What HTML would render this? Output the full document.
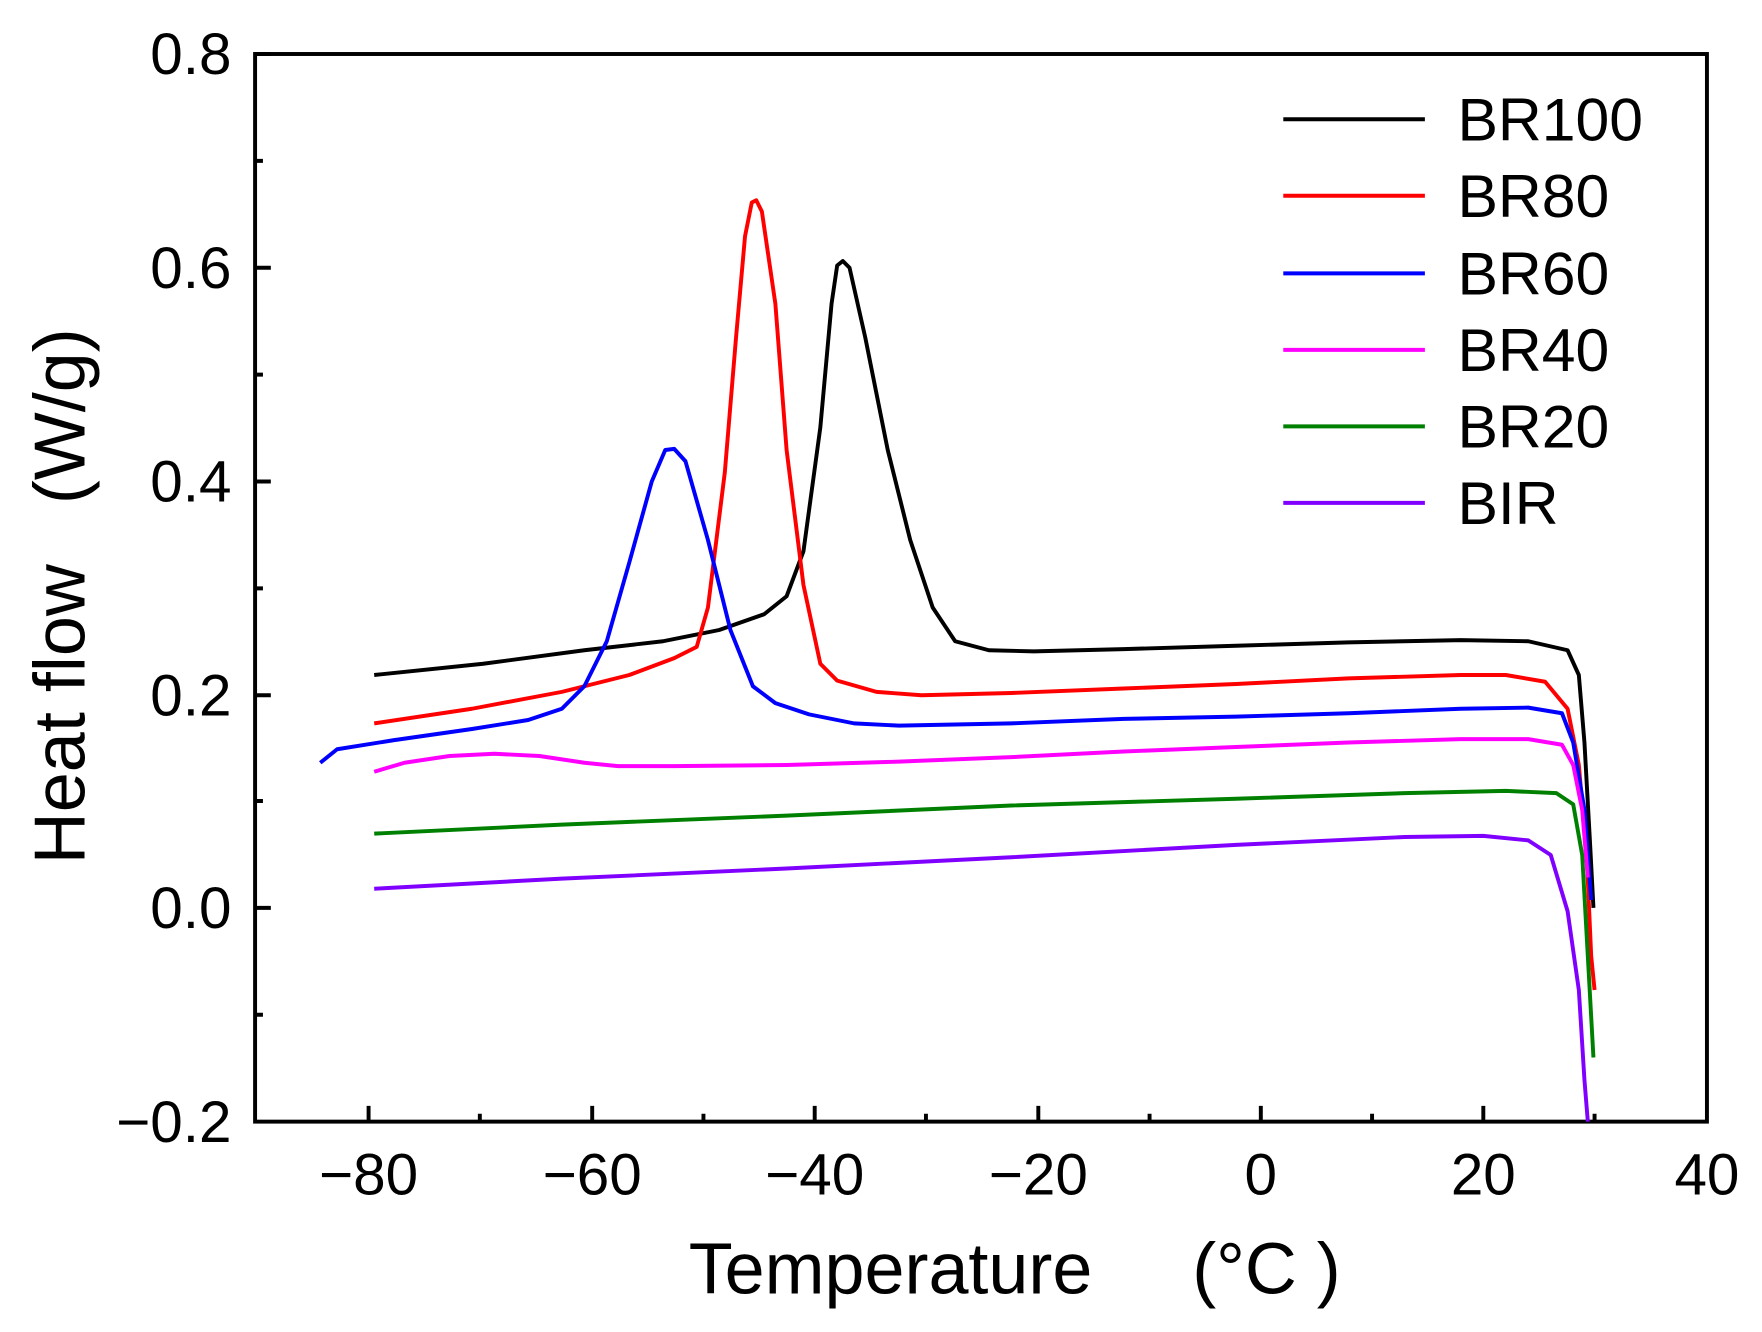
<!DOCTYPE html>
<html><head><meta charset="utf-8"><style>html,body{margin:0;padding:0;background:#fff}svg{display:block}</style></head>
<body>
<svg width="1762" height="1332" viewBox="0 0 1568 1184" preserveAspectRatio="none" xmlns="http://www.w3.org/2000/svg" font-family="Liberation Sans, sans-serif">
<rect x="0" y="0" width="1568" height="1184" fill="#fff"/>
<g stroke="#000" stroke-width="3.5" fill="none">
<rect x="227" y="48" width="1292" height="949"/>
<path d="M328,997v-14M427,997v-7M527,997v-14M626,997v-7M725,997v-14M824,997v-7M924,997v-14M1023,997v-7M1122,997v-14M1221,997v-7M1320,997v-14M1419,997v-7"/>
<path d="M227,48h14M227,143h7M227,238h14M227,333h7M227,428h14M227,523h7M227,618h14M227,712h7M227,807h14M227,902h7"/>
</g>
<g font-size="52" text-anchor="middle" fill="#000">
<text x="328" y="1062">−80</text><text x="527" y="1062">−60</text><text x="725" y="1062">−40</text><text x="924" y="1062">−20</text><text x="1122" y="1062">0</text><text x="1320" y="1062">20</text><text x="1519" y="1062">40</text>
</g>
<g font-size="52" text-anchor="end" fill="#000">
<text x="206" y="66">0.8</text><text x="206" y="256">0.6</text><text x="206" y="446">0.4</text><text x="206" y="636">0.2</text><text x="206" y="825">0.0</text><text x="206" y="1015">−0.2</text>
</g>
<text x="903" y="1150" font-size="64" text-anchor="middle">Temperature&#160;&#160;&#160;&#160;&#160;(°C )</text>
<text transform="translate(75,530) rotate(-90)" font-size="64" text-anchor="middle">Heat flow&#160;&#160;&#160;(W/g)</text>
<g fill="none" stroke-width="3.5" stroke-linejoin="round">
<polyline stroke="#000" points="333,600 430,590 520,578 590,570 640,560 680,546 700,530 715,490 730,380 740,270 745,236 750,232 756,238 770,300 790,400 810,480 830,540 850,570 880,578 920,579 1000,577 1100,574 1200,571 1300,569 1360,570 1395,578 1405,600 1410,660 1415,750 1418,807"/>
<polyline stroke="#ff0000" points="333,643 420,630 500,615 560,600 600,585 620,575 630,540 645,420 655,300 663,210 669,180 673,178 678,188 690,270 700,400 715,520 730,590 745,605 780,615 820,618 900,616 1000,612 1100,608 1200,603 1300,600 1340,600 1375,606 1395,630 1405,680 1412,760 1416,850 1419,880"/>
<polyline stroke="#0000ff" points="285,678 300,666 350,658 420,648 470,640 500,630 520,610 540,570 560,500 580,428 592,400 600,399 610,410 630,480 650,560 670,610 690,625 720,635 760,643 800,645 900,643 1000,639 1100,637 1200,634 1300,630 1360,629 1390,634 1400,660 1410,720 1416,800"/>
<polyline stroke="#ff00ff" points="333,686 360,678 400,672 440,670 480,672 520,678 550,681 600,681 700,680 800,677 900,673 1000,668 1100,664 1200,660 1300,657 1360,657 1390,662 1400,680 1408,720 1413,780"/>
<polyline stroke="#008000" points="333,741 500,733 700,725 900,716 1100,710 1250,705 1340,703 1385,705 1400,715 1408,760 1413,850 1418,940"/>
<polyline stroke="#8000ff" points="333,790 500,781 700,772 900,762 1100,751 1250,744 1320,743 1360,747 1380,760 1395,810 1405,880 1410,960 1413,997"/>
</g>
<g stroke-width="3.5">
<line x1="1142" y1="106" x2="1268" y2="106" stroke="#000"/>
<line x1="1142" y1="174" x2="1268" y2="174" stroke="#ff0000"/>
<line x1="1142" y1="243" x2="1268" y2="243" stroke="#0000ff"/>
<line x1="1142" y1="311" x2="1268" y2="311" stroke="#ff00ff"/>
<line x1="1142" y1="379" x2="1268" y2="379" stroke="#008000"/>
<line x1="1142" y1="447" x2="1268" y2="447" stroke="#8000ff"/>
</g>
<g font-size="54" fill="#000">
<text x="1297" y="125">BR100</text><text x="1297" y="193">BR80</text><text x="1297" y="262">BR60</text><text x="1297" y="330">BR40</text><text x="1297" y="398">BR20</text><text x="1297" y="466">BIR</text>
</g>
</svg>
</body></html>
